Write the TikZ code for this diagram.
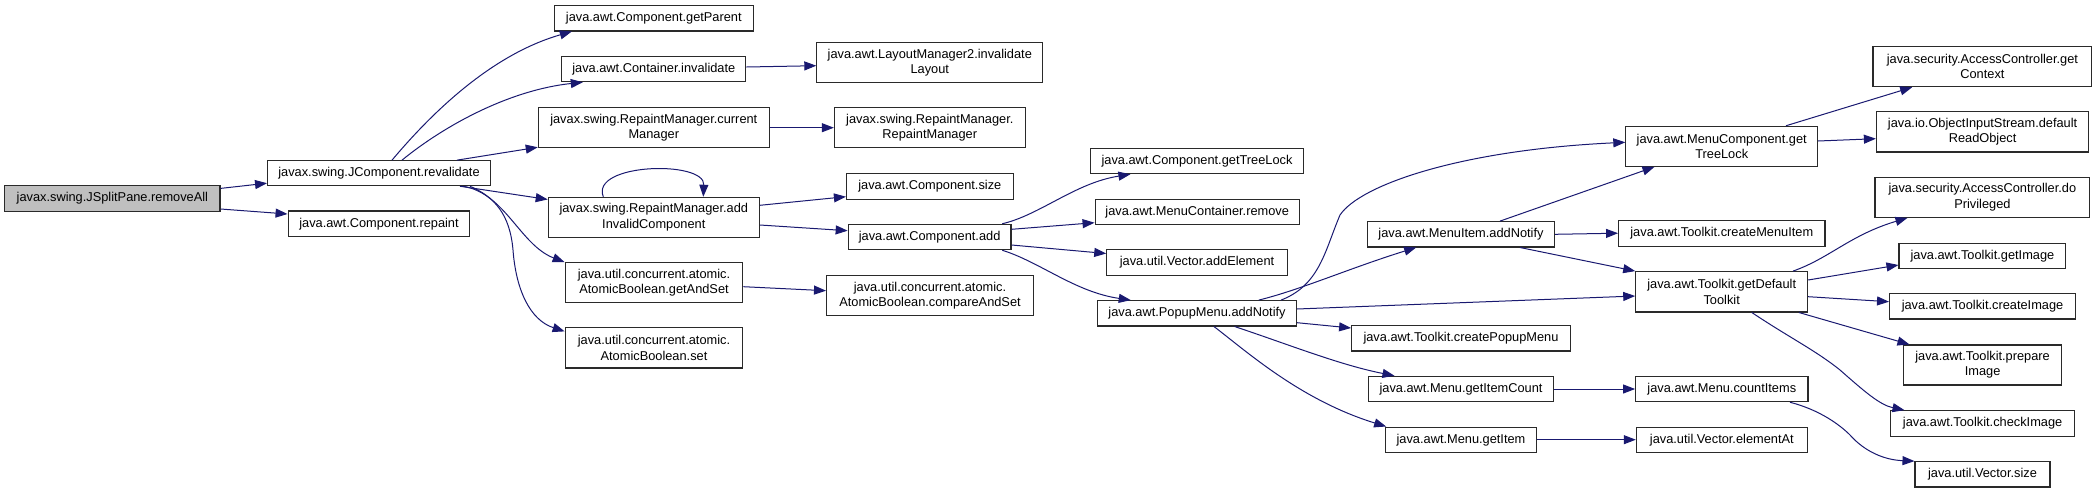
\documentclass[tikz,border=0pt]{standalone}
\usepackage{fontspec}
\setmainfont{Liberation Sans}
\usetikzlibrary{arrows.meta}
\definecolor{edgeblue}{HTML}{191970}
\definecolor{rootgray}{HTML}{BFBFBF}
\definecolor{boxborder}{HTML}{2A2A2A}
\tikzset{
  box/.style={draw=boxborder, line width=1.1pt, fill=white, inner sep=0pt, align=center,
    font=\fontsize{12.8}{15.3}\selectfont},
  rootbox/.style={box, fill=rootgray},
  edge/.style={draw=edgeblue, line width=1pt, -{Triangle[length=12pt,width=9pt]}},
}
\begin{document}
\begin{tikzpicture}[x=1pt,y=-1pt]
\useasboundingbox (0,0) rectangle (2097,493);
% rank 0/1
\node[rootbox, minimum width=215.2pt, minimum height=25.3pt] (rm) at (112.4,198.4) {javax.swing.JSplitPane.removeAll};
\node[box, minimum width=222.8pt, minimum height=25pt] (rv) at (379,173.2) {javax.swing.JComponent.revalidate};
\node[box, minimum width=181.8pt, minimum height=25.7pt] (rp) at (379,223.8) {java.awt.Component.repaint};
% rank 2
\node[box, minimum width=198.7pt, minimum height=25.3pt] (gp) at (653.8,18.3) {java.awt.Component.getParent};
\node[box, minimum width=184.2pt, minimum height=25pt] (ci) at (653.8,69.2) {java.awt.Container.invalidate};
\node[box, minimum width=231pt, minimum height=40pt] (cm) at (653.8,127.7) {javax.swing.RepaintManager.current\\Manager};
\node[box, minimum width=211.1pt, minimum height=40pt] (aic) at (653.8,217.3) {javax.swing.RepaintManager.add\\InvalidComponent};
\node[box, minimum width=177.7pt, minimum height=40pt] (gas) at (654,282.7) {java.util.concurrent.atomic.\\AtomicBoolean.getAndSet};
\node[box, minimum width=177.7pt, minimum height=40.3pt] (set) at (654,347.8) {java.util.concurrent.atomic.\\AtomicBoolean.set};
% rank 3
\node[box, minimum width=225.9pt, minimum height=39.6pt] (lm) at (929.8,62.5) {java.awt.LayoutManager2.invalidate\\Layout};
\node[box, minimum width=190.8pt, minimum height=40pt] (rmr) at (929.8,127.7) {javax.swing.RepaintManager.\\RepaintManager};
\node[box, minimum width=166.7pt, minimum height=25.6pt] (sz) at (929.8,186.5) {java.awt.Component.size};
\node[box, minimum width=162.8pt, minimum height=25.4pt] (add) at (929.6,237) {java.awt.Component.add};
\node[box, minimum width=206.9pt, minimum height=40pt] (cas) at (930,295.7) {java.util.concurrent.atomic.\\AtomicBoolean.compareAndSet};
% rank 4
\node[box, minimum width=213.5pt, minimum height=25pt] (gtl) at (1197,161.2) {java.awt.Component.getTreeLock};
\node[box, minimum width=204.2pt, minimum height=25.4pt] (mcr) at (1197.2,212) {java.awt.MenuContainer.remove};
\node[box, minimum width=180.4pt, minimum height=25.6pt] (ae) at (1197,262.5) {java.util.Vector.addElement};
\node[box, minimum width=199pt, minimum height=25.3pt] (pm) at (1197,313.3) {java.awt.PopupMenu.addNotify};
% rank 5
\node[box, minimum width=187pt, minimum height=25.3pt] (mi) at (1461,234.3) {java.awt.MenuItem.addNotify};
\node[box, minimum width=218.7pt, minimum height=25.3pt] (cpm) at (1461,338.3) {java.awt.Toolkit.createPopupMenu};
\node[box, minimum width=185.6pt, minimum height=25.4pt] (gic) at (1461,389) {java.awt.Menu.getItemCount};
\node[box, minimum width=151.2pt, minimum height=25.3pt] (gi) at (1461,439.7) {java.awt.Menu.getItem};
% rank 6
\node[box, minimum width=191.7pt, minimum height=40pt] (mct) at (1721.7,146.3) {java.awt.MenuComponent.get\\TreeLock};
\node[box, minimum width=206.4pt, minimum height=25.7pt] (cmi) at (1721.8,233.2) {java.awt.Toolkit.createMenuItem};
\node[box, minimum width=171.9pt, minimum height=40.3pt] (gdt) at (1721.7,291.8) {java.awt.Toolkit.getDefault\\Toolkit};
\node[box, minimum width=172.3pt, minimum height=25.4pt] (ci2) at (1721.8,389) {java.awt.Menu.countItems};
\node[box, minimum width=170.9pt, minimum height=25.3pt] (ea) at (1721.8,439.7) {java.util.Vector.elementAt};
% rank 7
\node[box, minimum width=218.8pt, minimum height=40pt] (gc) at (1982.4,66.7) {java.security.AccessController.get\\Context};
\node[box, minimum width=212.4pt, minimum height=40.3pt] (ois) at (1982.6,131.8) {java.io.ObjectInputStream.default\\ReadObject};
\node[box, minimum width=214.8pt, minimum height=40.3pt] (dp) at (1982.4,197.2) {java.security.AccessController.do\\Privileged};
\node[box, minimum width=166.8pt, minimum height=25.3pt] (gim) at (1982.4,255.7) {java.awt.Toolkit.getImage};
\node[box, minimum width=185.9pt, minimum height=25.3pt] (cim) at (1982.5,306.3) {java.awt.Toolkit.createImage};
\node[box, minimum width=157.6pt, minimum height=40pt] (pi) at (1982.6,365) {java.awt.Toolkit.prepare\\Image};
\node[box, minimum width=184.2pt, minimum height=25.6pt] (chk) at (1982.6,423.5) {java.awt.Toolkit.checkImage};
\node[box, minimum width=135pt, minimum height=25.3pt] (vs) at (1982.5,474.3) {java.util.Vector.size};
% edges
\draw[edge] ([yshift=10pt]rm.east) -- ([yshift=-10pt]rv.west);
\draw[edge] ([yshift=-10.6pt]rm.east) -- ([yshift=9.8pt]rp.west);
\draw[edge] ([xshift=13pt]rv.north) .. controls (430,115) and (490,55) .. ([xshift=-82pt]gp.south);
\draw[edge] ([xshift=23pt]rv.north) .. controls (445,125) and (510,90) .. ([xshift=-71pt]ci.south);
\draw[edge] ([xshift=78pt]rv.north) -- ([yshift=1pt]cm.south west);
\draw[edge] ([xshift=81pt]rv.south) -- ([yshift=-2.7pt]aic.north west);
\draw[edge] ([xshift=84pt]rv.south) .. controls (505,193) and (520,245) .. (gas.north west);
\draw[edge] ([xshift=91pt]rv.south) .. controls (495,197) and (510,215) .. (513,250) .. controls (516,290) and (530,320) .. ([yshift=-4.3pt]set.north west);
\draw[edge] ([yshift=2.2pt]ci.east) -- ([yshift=-3.2pt]lm.west);
\draw[edge] (cm.east) -- (rmr.west);
\draw[edge] ([xshift=-50.5pt]aic.north) .. controls (590,163) and (705,160) .. ([xshift=49.5pt]aic.north);
\draw[edge] ([yshift=12pt]aic.east) -- ([yshift=-10.2pt]sz.west);
\draw[edge] ([yshift=-7.7pt]aic.east) -- ([yshift=6.3pt]add.west);
\draw[edge] ([yshift=-4pt]gas.east) -- ([yshift=5pt]cas.west);
\draw[edge] ([xshift=-9.3pt]add.north east) .. controls (1040,215) and (1075,183) .. ([xshift=40.7pt]gtl.south west);
\draw[edge] ([yshift=7.7pt]add.east) -- ([yshift=-10.7pt]mcr.west);
\draw[edge] ([yshift=-8pt]add.east) -- ([yshift=9pt]ae.west);
\draw[edge] ([xshift=-9.3pt]add.south east) .. controls (1040,262) and (1075,292) .. ([xshift=33.8pt]pm.north west);
\draw[edge] ([xshift=84pt]pm.north) .. controls (1320,285) and (1325,250) .. (1340,215) .. controls (1360,185) and (1460,150) .. ([yshift=4pt]mct.west);
\draw[edge] ([xshift=61.7pt]pm.north) .. controls (1300,290) and (1350,268) .. ([xshift=49.2pt]mi.south west);
\draw[edge] ([yshift=4.3pt]pm.east) -- ([yshift=-4.2pt]gdt.west);
\draw[edge] ([yshift=-9.4pt]pm.east) -- ([yshift=10.3pt]cpm.west);
\draw[edge] ([xshift=37.6pt]pm.south) .. controls (1290,345) and (1340,365) .. ([xshift=26.8pt]gic.north west);
\draw[edge] ([xshift=16.9pt]pm.south) .. controls (1245,350) and (1300,400) .. ([xshift=1.3pt]gi.north west);
\draw[edge] ([xshift=39pt]mi.north) -- ([xshift=29.2pt]mct.south west);
\draw[edge] (mi.east) -- (cmi.west);
\draw[edge] ([xshift=59pt]mi.south) -- (gdt.north west);
\draw[edge] (gic.east) -- (ci2.west);
\draw[edge] (gi.east) -- (ea.west);
\draw[edge] ([xshift=64.3pt]mct.north) -- ([xshift=39.7pt]gc.south west);
\draw[edge] ([yshift=5.3pt]mct.east) -- ([yshift=-6.9pt]ois.west);
\draw[edge] ([xshift=71.3pt]gdt.north) .. controls (1830,258) and (1850,235) .. ([xshift=33pt]dp.south west);
\draw[edge] ([yshift=11.8pt]gdt.east) -- ([yshift=-9.3pt]gim.west);
\draw[edge] ([yshift=-4.9pt]gdt.east) -- ([yshift=4.6pt]cim.west);
\draw[edge] ([xshift=-9.3pt]gdt.south east) -- ([xshift=6.2pt]pi.north west);
\draw[edge] ([xshift=30.1pt]gdt.south) .. controls (1790,338) and (1815,350) .. (1840,370) .. controls (1865,392) and (1880,405) .. ([xshift=14.5pt]chk.north west);
\draw[edge] ([xshift=-18.5pt]ci2.south east) .. controls (1820,410) and (1840,425) .. (1850,435) .. controls (1865,452) and (1885,460) .. (vs.north west);
\end{tikzpicture}
\end{document}
